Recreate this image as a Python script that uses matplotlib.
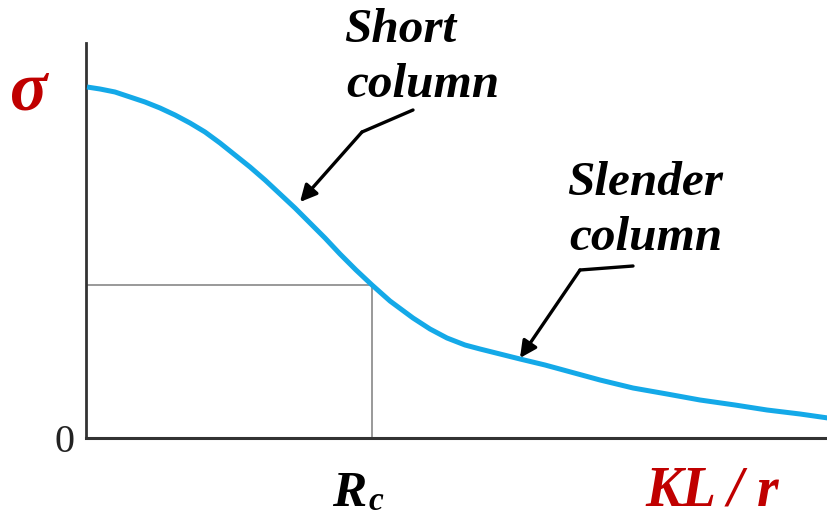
import matplotlib
matplotlib.use("Agg")
import matplotlib.pyplot as plt

# Data (arbitrary units)
kl_r = [1, 14, 29, 44, 59, 74, 89, 104, 119, 134, 149, 164, 179, 194, 209, 224, 239, 254, 270, 286,
        304, 327, 344, 361, 379, 394, 414, 434, 459, 481, 514, 547, 581, 614, 649, 681, 714, 742]
sigma = [351, 349, 346, 341, 336, 330, 323, 315, 306, 295, 283, 271, 258, 244, 230, 215, 200, 184, 168, 153,
         137, 120, 109, 100, 93, 89, 84, 79, 73, 67, 58, 50, 44, 38, 33, 28, 24, 20]
rc_x = 286
rc_y = 153

W, H = 828, 519
fig = plt.figure(figsize=(W / 100, H / 100), dpi=100)
ax = fig.add_axes([86 / W, 1 - 438 / H, (828 - 86) / W, (438 - 43) / H])
ax.set_xlim(0, 742)
ax.set_ylim(0, 395)
ax.set_xticks([])
ax.set_yticks([])
for s in ["top", "right"]:
    ax.spines[s].set_visible(False)
ax.spines["left"].set_color("#333333")
ax.spines["left"].set_linewidth(2.0)
ax.spines["bottom"].set_color("#333333")
ax.spines["bottom"].set_linewidth(2.2)

# Rc guide lines
ax.plot([0, rc_x], [rc_y, rc_y], color="#999999", lw=1.4, zorder=1)
ax.plot([rc_x, rc_x], [0, rc_y], color="#999999", lw=1.4, zorder=1)

# curve
ax.plot(kl_r, sigma, color="#14a9e8", lw=3.6, solid_capstyle="butt", solid_joinstyle="round",
        zorder=3, clip_on=False)

serif = "Liberation Serif"


def px(x, y):
    return x / W, 1 - y / H


def ftext(x, y, s, size, color="black", weight="bold", style="italic", ha="left"):
    fig.text(*px(x, y), s, fontsize=size, color=color, fontweight=weight,
             fontstyle=style, family=serif, ha=ha, va="baseline")


ftext(344, 42, "Short", 35.5)
ftext(346, 97, "column", 35.5)
ftext(567, 195, "Slender", 35.5)
ftext(569, 250, "column", 35.5)

ftext(10, 109, "σ", 50, color="#c00000")
ftext(75, 452, "0", 29, color="#222222", weight="normal", style="normal", ha="right")
ftext(332, 506, "R", 37)
ftext(369, 510, "c", 24)
ftext(645, 506, "KL / r", 40, color="#c00000")

# arrows (data coordinates)
arrow_kw = dict(arrowstyle="-|>,head_length=1.0,head_width=0.5", color="black", lw=2.4,
                shrinkA=0, shrinkB=0)
ax.plot([327, 276], [328, 306], color="black", lw=2.4, solid_capstyle="round", clip_on=False)
ax.annotate("", xy=(214, 236), xytext=(276, 306), arrowprops=arrow_kw, annotation_clip=False)
ax.plot([547, 494], [172, 168], color="black", lw=2.4, solid_capstyle="round", clip_on=False)
ax.annotate("", xy=(434, 80), xytext=(494, 168), arrowprops=arrow_kw, annotation_clip=False)

fig.savefig("out.png", dpi=100)
